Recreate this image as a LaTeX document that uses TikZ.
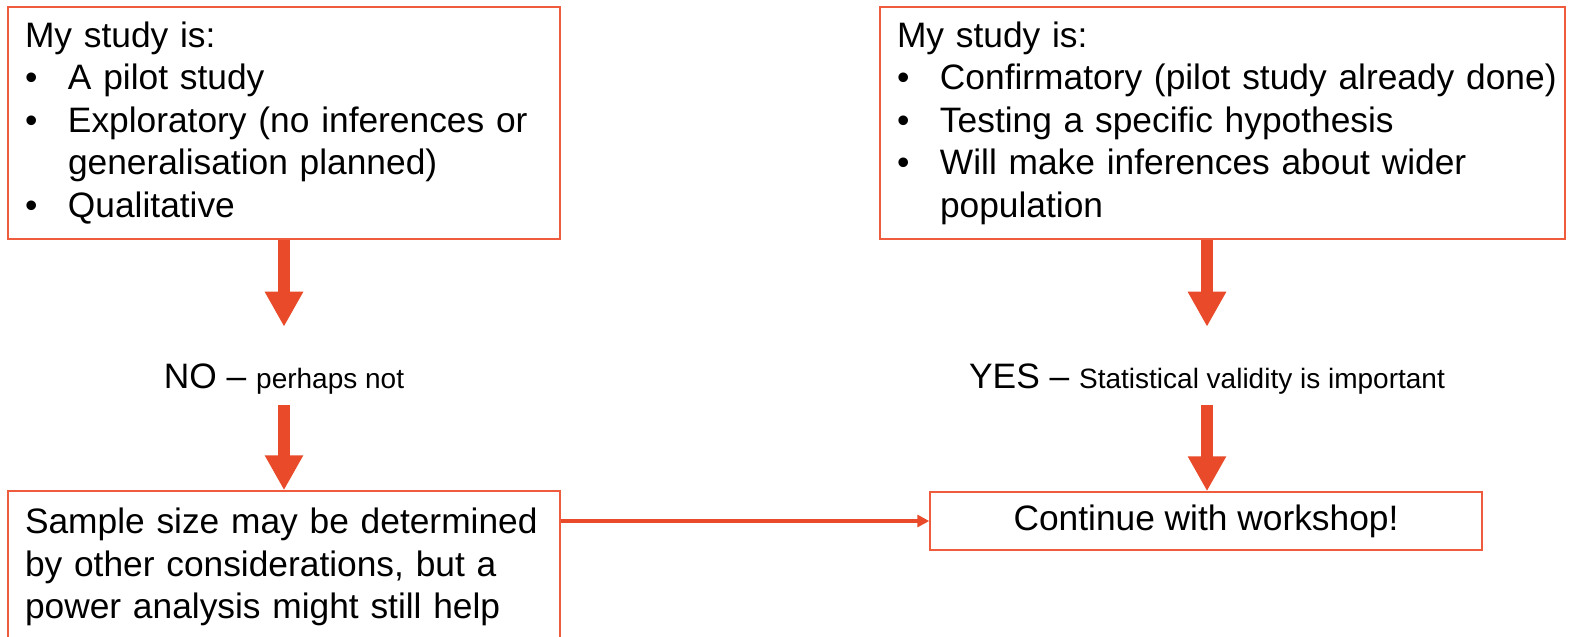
\documentclass[tikz,border=0pt]{standalone}
\usepackage{fontspec}
\setmainfont{Liberation Sans}
\usetikzlibrary{arrows.meta}
\definecolor{accent}{HTML}{E84A2A}
\definecolor{boxline}{HTML}{EE5B3D}
\newcommand{\bigtxt}{\fontsize{26.5}{31.9}\selectfont}
\newcommand{\smalltxt}{\fontsize{21}{25}\selectfont}
\newcommand{\bitem}[1]{\mbox{\makebox[32.25pt][l]{\textbullet}#1}}
\newcommand{\bcont}[1]{\mbox{\hspace*{32.25pt}#1}}
\begin{document}
\begin{tikzpicture}[x=0.75pt,y=-0.75pt,
  box/.style={draw=boxline, line width=1.1pt, rectangle, inner xsep=12.75pt, inner ysep=0pt,
              align=left, font=\bigtxt},
  lbl/.style={inner xsep=0pt, inner ysep=0pt, text height=45.75pt, text depth=12.75pt, font=\bigtxt, anchor=base},
  bigarrow/.style={draw=accent, line width=9pt, -{Triangle[width=27pt,length=26.25pt]}},
  thinarrow/.style={draw=accent, line width=3pt, -{Triangle[width=9pt,length=9pt]}}]
\useasboundingbox (0,0) rectangle (1573,636);
\clip (0,0) rectangle (1573,636);
\fill[white] (0,0) rectangle (1573,636);

\node[box, minimum width=414pt, minimum height=174pt, text width=388.5pt] (lt) at (284,123)
  {My study is:\\
   \bitem{A pilot study}\\
   \bitem{Exploratory (no inferences or}\\
   \bcont{generalisation planned)}\\
   \bitem{Qualitative}};

\node[box, minimum width=513.75pt, minimum height=174pt, text width=488.25pt] (rt) at (1222.5,123)
  {My study is:\\
   \bitem{Confirmatory (pilot study already done)}\\
   \bitem{Testing a specific hypothesis}\\
   \bitem{Will make inferences about wider}\\
   \bcont{population}};

\node[lbl] (no) at (284,388) {NO -- {\smalltxt perhaps not}};
\node[lbl] (yes) at (1207,388) {YES -- {\smalltxt Statistical validity is important}};

\node[box, minimum width=414pt, minimum height=114pt, text width=388.5pt] (lb) at (284,567)
  {Sample size may be determined\\
   by other considerations, but a\\
   power analysis might still help};

\node[box, minimum width=414pt, minimum height=43.5pt, align=center] (cont) at (1206,521)
  {Continue with workshop!};

\draw[bigarrow] (lt.south) -- (no.north);
\draw[bigarrow] (no.south) -- (lb.north);
\draw[bigarrow] (yes.north |- rt.south) -- (yes.north);
\draw[bigarrow] (yes.south) -- (yes.south |- cont.north);
\draw[thinarrow] (lb.east |- cont.west) -- (cont.west);
\end{tikzpicture}
\end{document}
